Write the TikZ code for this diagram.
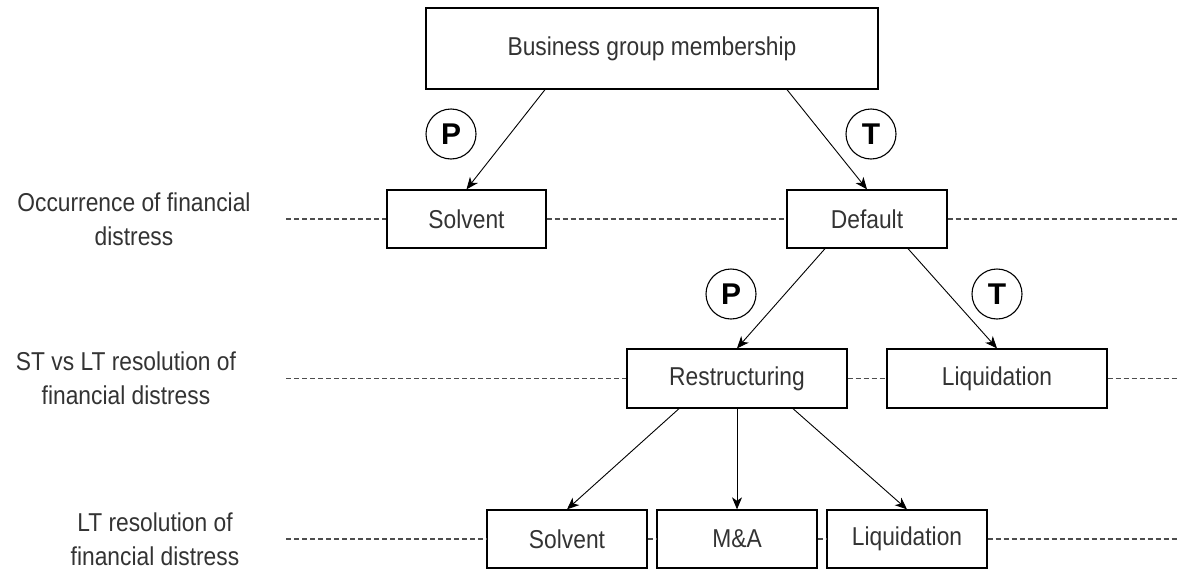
\documentclass[tikz,border=0pt]{standalone}
\usepackage{fontspec}
\setmainfont{Liberation Sans}
\usetikzlibrary{arrows.meta,positioning,calc}
\definecolor{txtcol}{HTML}{333333}
\definecolor{dashcol}{HTML}{4D4D4D}
\newcommand{\stx}[1]{\scalebox{0.97}[1.1]{#1}}
\begin{document}
\begin{tikzpicture}[x=1pt,y=-1pt,
  box/.style={draw=black,line width=1.3pt,minimum width=160pt,minimum height=58pt,inner sep=0pt,font=\fontsize{23.5}{28}\selectfont,text=txtcol},
  lbl/.style={align=center,font=\fontsize{23.5}{34}\selectfont,text=txtcol},
  circ/.style={draw=black,circle,line width=1.1pt,minimum size=50pt,inner sep=0pt,font=\bfseries\fontsize{30}{34}\selectfont},
  arr/.style={line width=0.9pt,-{Stealth[length=12pt,width=10pt,inset=3.5pt]}},
  dl/.style={draw=dashcol,line width=1.2pt,dash pattern=on 5pt off 3pt}]
\useasboundingbox (0,0) rectangle (1177,573);
% rows
\node[box,minimum width=452pt,minimum height=81pt] (top) at (652,48.5) {\stx{Business group membership}};
\node[box,minimum width=159pt] (s1) at (466.5,219) {\stx{Solvent}};
\node[box] (d1) at (867,219) {\stx{Default}};
\node[box,minimum width=220pt,minimum height=59pt] (r2) at (737,378.5) {\stx{Restructuring}};
\node[box,minimum width=220pt,minimum height=59pt] (l2) at (997,378.5) {\stx{Liquidation}};
\node[box] (s3) at (567,539) {\stx{Solvent}};
\node[box] (m3) at (737,539) {\stx{M\&A}};
\node[box] (q3) at (907,539) {\stx{Liquidation}};
% labels
\node[lbl] (lab1) at (134,219) {\stx{Occurrence of financial}\\\stx{distress}};
\node[lbl] (lab2) at (126,378.5) {\stx{ST vs LT resolution of}\\\stx{financial distress}};
\node[lbl] (lab3) at (155,539) {\stx{LT resolution of}\\\stx{financial distress}};
% ends
\coordinate (e1) at (1177,219);
\coordinate (e2) at (1177,378.5);
\coordinate (e3) at (1177,539);
\coordinate (b1) at (286,219);
\coordinate (b2) at (286,378.5);
\coordinate (b3) at (286,539);
% dashed lines
\draw[dl] (b1) -- (s1.west);
\draw[dl] (s1.east) -- (d1.west);
\draw[dl] (d1.east) -- (e1);
\draw[dl] (b2) -- (r2.west);
\draw[dl] (r2.east) -- (l2.west);
\draw[dl] (l2.east) -- (e2);
\draw[dl] (b3) -- (s3.west);
\draw[dl] (s3.east) -- (m3.west);
\draw[dl] (m3.east) -- (q3.west);
\draw[dl] (q3.east) -- (e3);
% arrows
\draw[arr] ([xshift=-107pt]top.south) -- (s1.north);
\draw[arr] ([xshift=135pt]top.south) -- (d1.north);
\draw[arr] ([xshift=-42pt]d1.south) -- (r2.north);
\draw[arr] ([xshift=41pt]d1.south) -- (l2.north);
\draw[arr] ([xshift=-58pt]r2.south) -- (s3.north);
\draw[arr] (r2.south) -- (m3.north);
\draw[arr] ([xshift=56pt]r2.south) -- (q3.north);
% circles
\node[circ] (p1) at (451,134) {P};
\node[circ] (t1) at (871,134) {T};
\node[circ] (p2) at (731,294) {P};
\node[circ] (t2) at (997,294) {T};
\end{tikzpicture}
\end{document}
